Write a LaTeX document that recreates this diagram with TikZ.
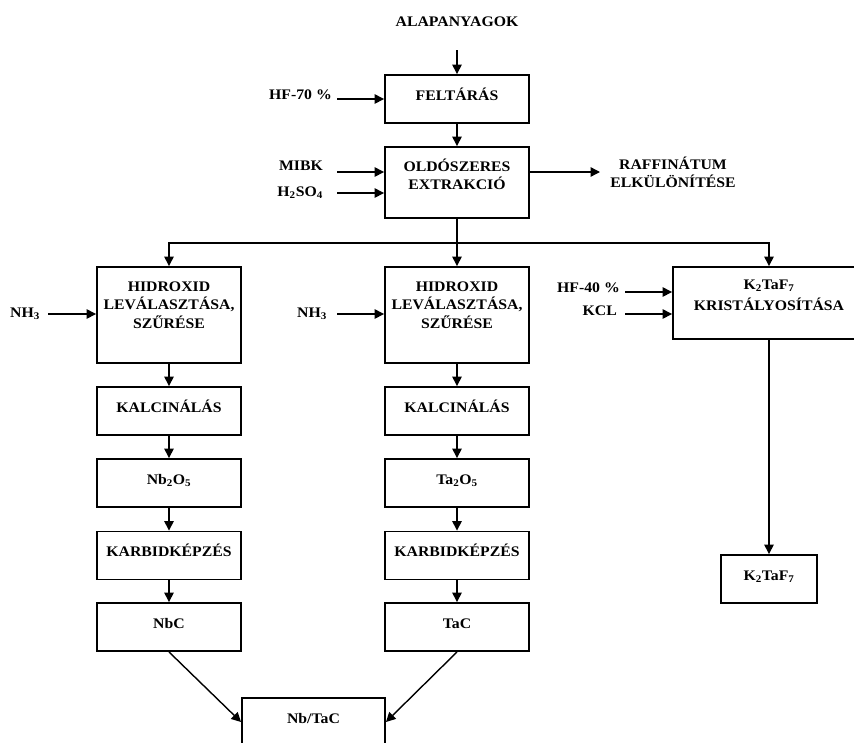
\documentclass[tikz,border=0pt]{standalone}
\usepackage{fontspec}
\setmainfont{Liberation Serif}[FakeStretch=1.08]
\usetikzlibrary{arrows.meta}
% centred block of lines whose baseline is that of the first line
\newcommand\stacklines[1]{\begin{tabular}[t]{@{}c@{}}#1\end{tabular}}
\begin{document}
\begin{tikzpicture}[x=1pt, y=-1pt,
  font=\bfseries\fontsize{14.6}{18.5}\selectfont,
  box/.style={draw, line width=1.9pt, inner sep=0pt, minimum width=144pt, text height=25pt, text depth=23pt},
  lbl/.style={inner sep=0pt},
  line/.style={line width=1.4pt},
  arr/.style={line width=1.4pt, -{Triangle[length=9.5pt, width=9.5pt]}}]
\useasboundingbox (0,0) rectangle (854,742);

% --- main line ---
\node[lbl, anchor=base] (alap) at (457,26.7) {ALAPANYAGOK};
\coordinate (in-alap) at (457,50);
\node[box] (feltaras) at (457,99) {FELTÁRÁS};
\node[box, text height=24pt, text depth=47pt] (oldo) at (457,182.5)
  {\stacklines{OLDÓSZERES\\EXTRAKCIÓ}};

\draw[arr] (in-alap) -- (feltaras.north);
\draw[arr] (feltaras) -- (oldo);

% reagents of the first two steps
\node[lbl, anchor=base east] (hf70) at (332,99.5) {HF-70 \%};
\coordinate (in-hf70) at (337,99);
\draw[arr] (in-hf70) -- (in-hf70 -| feltaras.west);

\node[lbl, anchor=base east] (mibk) at (323,170.7) {MIBK};
\coordinate (in-mibk) at (337,172);
\draw[arr] (in-mibk) -- (in-mibk -| oldo.west);

\node[lbl, anchor=base east] (h2so4) at (323,196.7) {H\textsubscript{2}SO\textsubscript{4}};
\coordinate (in-h2so4) at (337,193);
\draw[arr] (in-h2so4) -- (in-h2so4 -| oldo.west);

% raffinate
\node[lbl, anchor=base] (raff) at (673,169) {\stacklines{RAFFINÁTUM\\ELKÜLÖNÍTÉSE}};
\coordinate (out-raff) at (600,172);
\draw[arr] (out-raff -| oldo.east) -- (out-raff);

% --- three branches ---
\node[box, text height=24pt, text depth=72pt] (hid1) at (169,315)
  {\stacklines{HIDROXID\\LEVÁLASZTÁSA,\\SZŰRÉSE}};
\node[box, text height=24pt, text depth=72pt] (hid2) at (457,315)
  {\stacklines{HIDROXID\\LEVÁLASZTÁSA,\\SZŰRÉSE}};
\node[box, minimum width=192pt, text height=22pt, text depth=50pt] (kris) at (769,303)
  {\stacklines{K\textsubscript{2}TaF\textsubscript{7}\\[2.5pt]KRISTÁLYOSÍTÁSA}};

\coordinate (split) at (457,243);
\draw[line] (oldo) -- (split);
\draw[arr] (split) -| (hid1.north);
\draw[arr] (split) -- (hid2.north);
\draw[arr] (split) -| (kris.north);

% reagents of the branches
\node[lbl, anchor=base east] (nh3a) at (40,317) {NH\textsubscript{3}};
\coordinate (in-nh3a) at (48,314);
\draw[arr] (in-nh3a) -- (in-nh3a -| hid1.west);

\node[lbl, anchor=base east] (nh3b) at (327,317) {NH\textsubscript{3}};
\coordinate (in-nh3b) at (337,314);
\draw[arr] (in-nh3b) -- (in-nh3b -| hid2.west);

\node[lbl, anchor=base east] (hf40) at (620,292) {HF-40 \%};
\coordinate (in-hf40) at (625,292);
\draw[arr] (in-hf40) -- (in-hf40 -| kris.west);

\node[lbl, anchor=base east] (kcl) at (617,315) {KCL};
\coordinate (in-kcl) at (625,314);
\draw[arr] (in-kcl) -- (in-kcl -| kris.west);

% niobium branch
\node[box] (kalc1) at (169,411) {KALCINÁLÁS};
\node[box] (nb2o5) at (169,483) {Nb\textsubscript{2}O\textsubscript{5}};
\node[box] (karb1) at (169,555.5) {KARBIDKÉPZÉS};
\node[box] (nbc) at (169,627) {NbC};
\draw[arr] (hid1) -- (kalc1);
\draw[arr] (kalc1) -- (nb2o5);
\draw[arr] (nb2o5) -- (karb1);
\draw[arr] (karb1) -- (nbc);

% tantalum branch
\node[box] (kalc2) at (457,411) {KALCINÁLÁS};
\node[box] (ta2o5) at (457,483) {Ta\textsubscript{2}O\textsubscript{5}};
\node[box] (karb2) at (457,555.5) {KARBIDKÉPZÉS};
\node[box] (tac) at (457,627) {TaC};
\draw[arr] (hid2) -- (kalc2);
\draw[arr] (kalc2) -- (ta2o5);
\draw[arr] (ta2o5) -- (karb2);
\draw[arr] (karb2) -- (tac);

% mixed carbide
\node[box, minimum width=143pt] (nbtac) at (313.5,722) {Nb/TaC};
\draw[arr] (nbc.south) -- (nbtac.west);
\draw[arr] (tac.south) -- (nbtac.east);

% crystallised salt
\node[box, minimum width=96pt] (k2taf7) at (769,579) {K\textsubscript{2}TaF\textsubscript{7}};
\draw[arr] (kris.south) -- (k2taf7.north);
\end{tikzpicture}
\end{document}
